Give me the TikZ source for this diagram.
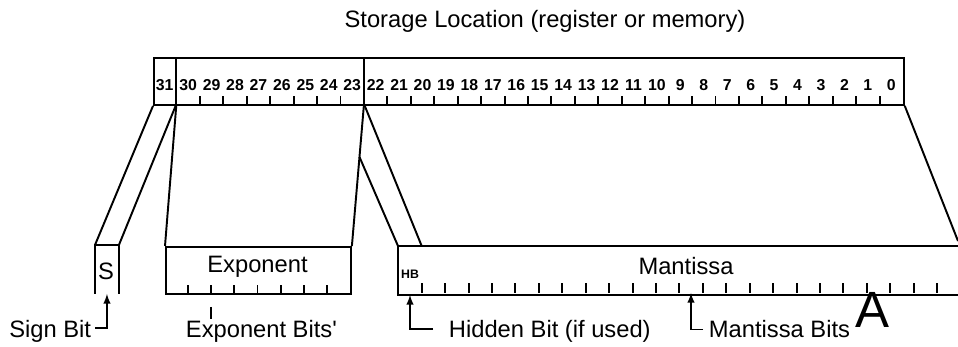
\documentclass[tikz,border=0pt]{standalone}
\usepackage{fontspec}
\setmainfont{Liberation Sans}
\usetikzlibrary{positioning,calc,arrows}
\tikzset{>=latex}
\tikzset{field/.style={rectangle,inner sep=0pt,minimum height=0.94cm,anchor=north west}}
\tikzset{bitnum/.style={font=\fontsize{9}{10}\selectfont\bfseries,inner sep=0pt}}
\tikzset{lbl/.style={font=\fontsize{13.5}{16}\selectfont,inner sep=0pt}}
\tikzset{pointer/.style={->,line width=0.9pt}}

\begin{document}
\begin{tikzpicture}[x=0.02cm,y=-0.02cm,line width=1.1pt]
    \useasboundingbox (0,0) rectangle (958,347);
    \node[lbl] (title) at (545,21) {Storage Location (register or memory)};
    % storage location, 32 bits
    \node[field,draw,minimum width=15cm] (reg) at (153,57) {};
    \coordinate (s30) at (176.4,104);
    \coordinate (s22) at (364,104);
    \draw (s30) -- (s30 |- reg.north);
    \draw (s22) -- (s22 |- reg.north);
    \foreach \i in {0,...,31}
        \node[bitnum] (b\i) at ({903-(\i+0.5)*23.4375},85) {\i};
    \foreach \i in {0,...,21,23,24,...,29}
        \draw ({903-(\i+1)*23.4375},104) -- +(0,-8);
    % sign
    \node[field,minimum width=0.44cm] (sign) at (95,245) {};
    \draw (sign.south west) -- (sign.north west) -- (sign.north east) -- (sign.south east);
    \node[lbl,anchor=base] (signtxt) at (106,280) {S};
    \draw (reg.south west) -- (sign.north west);
    \draw (s30) -- (sign.north east);
    % exponent
    \node[field,draw,minimum width=3.7cm] (expo) at (165,246) {};
    \node[lbl,anchor=base] (expotxt) at (257.5,273) {Exponent};
    \foreach \k in {1,...,7}
        \draw ($(expo.south west)+(\k*23.125,0)$) -- +(0,-10);
    \draw (s30) -- (expo.north west);
    \draw (s22) -- (expo.north east);
    % mantissa
    \node[field,minimum width=11.2cm] (mant) at (398,246) {};
    \draw (mant.north east) -- (mant.north west) -- (mant.south west) -- (mant.south east);
    \node[font=\fontsize{7}{8}\selectfont\bfseries,inner sep=0pt] (hb) at (410,274) {HB};
    \node[lbl,anchor=base] (manttxt) at (686,275) {Mantissa};
    \foreach \k in {0,...,22}
        \draw ({421.7+\k*23.43},293) -- +(0,-10);
    \coordinate (hbtop) at (421.7,246);
    \coordinate (mantedge) at (958,241);
    \draw (s22) -- (hbtop);
    \draw ($(s22)!0.373!(expo.north east)$) -- (mant.north west);
    \draw (reg.south east) -- (mantedge);
    % labels below
    \node[lbl,anchor=base east] (signlbl) at (92,338) {Sign Bit};
    \draw[pointer] ($(signlbl.east)+(3,-4)$) -| (sign.south);
    \node[lbl,anchor=base west] (explbl) at (185,338) {Exponent Bits\textquotesingle};
    \coordinate (exptick) at ($(expo.south west)+(46.25,0)$);
    \draw ($(exptick)+(0,12)$) -- ($(exptick)+(0,24)$);
    \node[lbl,anchor=base west] (hidlbl) at (448,338) {Hidden Bit (if used)};
    \draw[pointer] ($(hidlbl.west)+(-15,-3)$) -| (hb |- mant.south);
    \node[lbl,anchor=base west] (mbitslbl) at (708,338) {Mantissa Bits};
    \coordinate (mbit) at (691,293);
    \draw[pointer] ($(mbitslbl.west)+(-5,0)$) -| (mbit);
    \node[font=\fontsize{29}{31}\selectfont,inner sep=0pt,anchor=base] (bigA) at (872,328) {A};
\end{tikzpicture}
\end{document}
